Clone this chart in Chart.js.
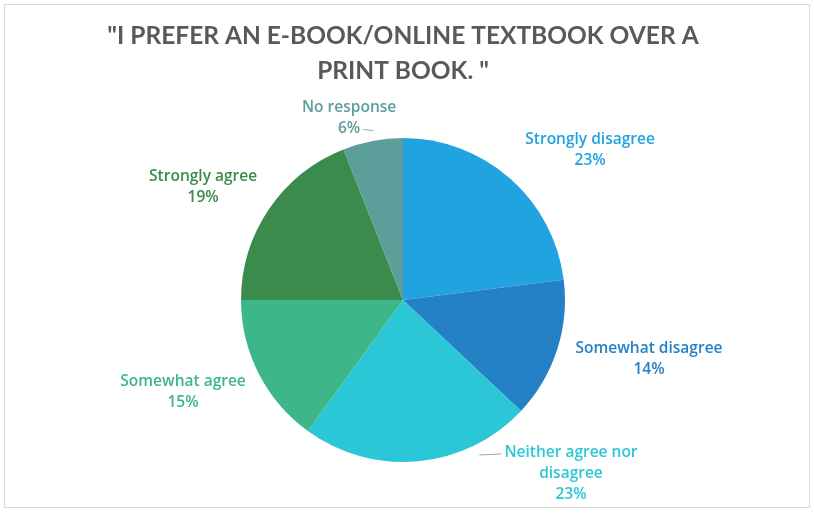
<!DOCTYPE html>
<html>
<head>
<meta charset="utf-8">
<script src="https://cdn.jsdelivr.net/npm/chart.js@4/dist/chart.umd.min.js"></script>
<style>
  html, body { margin: 0; padding: 0; background: #fff; }
  #wrap { width: 814px; height: 514px; }
</style>
</head>
<body>
<div id="wrap"><canvas id="pieChart" width="814" height="514"></canvas></div>
<script>
const titleLines = ["\"I PREFER AN E-BOOK/ONLINE TEXTBOOK OVER A", "PRINT BOOK. \""];
const categories = ["Strongly disagree", "Somewhat disagree", "Neither agree nor disagree", "Somewhat agree", "Strongly agree", "No response"];
const percents = [23, 14, 23, 15, 19, 6];
const labelLines = [
  ["Strongly disagree"],
  ["Somewhat disagree"],
  ["Neither agree nor", "disagree"],
  ["Somewhat agree"],
  ["Strongly agree"],
  ["No response"]
];

const sliceColors = ["#21A3DF", "#2581C6", "#2CC7D6", "#3DB68A", "#3B8B4C", "#5C9E99"];

// label placement: angle (deg clockwise from top) and distance in radii
const labelPlace = [
  { a: 51.3, d: 1.48 },
  { a: 103.5, d: 1.562 },
  { a: 136, d: 1.493 },
  { a: 247.3, d: 1.472 },
  { a: 299.5, d: 1.418 },
  { a: 343.5, d: 1.172 }
];
const leaders = [null, null, { side: "left", line: 0, len: 22 }, null, null, { side: "right", line: 1, len: 10 }];

const outsideLabels = {
  id: "outsideLabels",
  afterDatasetsDraw(chart) {
    const ctx = chart.ctx;
    const arcs = chart.getDatasetMeta(0).data;
    ctx.save();
    ctx.font = "600 15.5px 'Open Sans'";
    ctx.textAlign = "center";
    ctx.textBaseline = "middle";
    arcs.forEach((arc, i) => {
      const p = labelPlace[i];
      const rad = p.a * Math.PI / 180;
      const cx = arc.x + Math.sin(rad) * arc.outerRadius * p.d;
      const cy = arc.y - Math.cos(rad) * arc.outerRadius * p.d;
      const lines = labelLines[i].concat([percents[i] + "%"]);
      const lh = 21;
      const top = cy - (lines.length - 1) * lh / 2;
      ctx.fillStyle = sliceColors[i];
      lines.forEach((t, k) => ctx.fillText(t, cx, top + k * lh));

      const ld = leaders[i];
      if (ld) {
        const ly = top + ld.line * lh;
        const w = ctx.measureText(lines[ld.line]).width;
        const x0 = ld.side === "left" ? cx - w / 2 - 3 : cx + w / 2 + 3;
        const x1 = ld.side === "left" ? x0 - ld.len : x0 + ld.len;
        ctx.strokeStyle = "#a6a6a6";
        ctx.lineWidth = 1;
        ctx.beginPath();
        ctx.moveTo(x0, ly + 1);
        ctx.lineTo(x1, ly + 2);
        ctx.stroke();
      }
    });
    ctx.restore();
  }
};

const frame = {
  id: "frame",
  beforeDraw(chart) {
    const ctx = chart.ctx;
    ctx.save();
    ctx.fillStyle = "#fff";
    ctx.fillRect(0, 0, chart.width, chart.height);
    ctx.strokeStyle = "#d9d9d9";
    ctx.lineWidth = 1;
    ctx.strokeRect(4.5, 4.5, chart.width - 9, chart.height - 11);
    ctx.restore();
  }
};

function initPieChart() {
  const el = document.getElementById("pieChart");
  new Chart(el, {
    type: "pie",
    data: {
      labels: categories,
      datasets: [{
        data: percents,
        backgroundColor: sliceColors,
        borderWidth: 0
      }]
    },
    options: {
      responsive: false,
      animation: false,
      layout: { padding: { top: 0, bottom: 52, left: 0, right: 8 } },
      plugins: {
        legend: { display: false },
        tooltip: { enabled: false },
        title: {
          display: true,
          text: titleLines,
          color: "#595959",
          font: { family: "Lato", size: 24.5, weight: "bold", lineHeight: 1.43 },
          padding: { top: 19, bottom: 49 }
        }
      }
    },
    plugins: [frame, outsideLabels]
  });
}

initPieChart();
</script>
</body>
</html>
